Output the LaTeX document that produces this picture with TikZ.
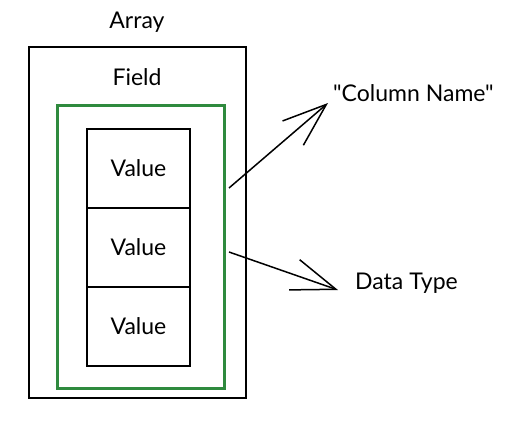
\documentclass[tikz,border=0pt]{standalone}
\usepackage{fontspec}
\setmainfont{Lato}[Ligatures=TeXOff]
\usetikzlibrary{arrows.meta}
\definecolor{fieldgreen}{HTML}{2F8A3E}
\tikzset{
  x=1pt, y=-1pt,
  box/.style={draw=black, line width=1.5pt, inner sep=0pt},
  valuebox/.style={box, minimum width=103pt, minimum height=79pt, font=\fontsize{23}{26}\selectfont},
  fieldbox/.style={draw=fieldgreen, line width=3pt, minimum width=167pt, minimum height=283pt, inner sep=0pt},
  lbl/.style={font=\fontsize{23}{26}\selectfont, inner sep=0pt},
  sketcharrow/.style={line width=1.5pt, -{Straight Barb[length=44pt, width=32pt, line width=1.5pt]}}
}
\begin{document}
\begin{tikzpicture}
\useasboundingbox (0,0) rectangle (518,431);
\node[box, minimum width=217pt, minimum height=351pt] (array) at (137.5,222.5) {};
\node[fieldbox] (field) at (140.5,246.5) {};
\node[valuebox] (v1) at (138.5,168.5) {Value};
\node[valuebox] (v2) at (138.5,247.5) {Value};
\node[valuebox] (v3) at (138.5,326.5) {Value};
\node[lbl] (arraylbl) at (137,22) {Array};
\node[lbl] (fieldlbl) at (137,77) {Field};
\node[lbl, anchor=west] (colname) at (333,93) {"Column Name"};
\node[lbl, anchor=west] (dtype) at (355,283) {Data Type};
\coordinate (s1) at (229,188);
\coordinate (t1) at (328,103);
\coordinate (s2) at (229,252);
\coordinate (t2) at (338,290);
\draw[sketcharrow] (s1) -- (t1);
\draw[sketcharrow] (s2) -- (t2);
\end{tikzpicture}
\end{document}
